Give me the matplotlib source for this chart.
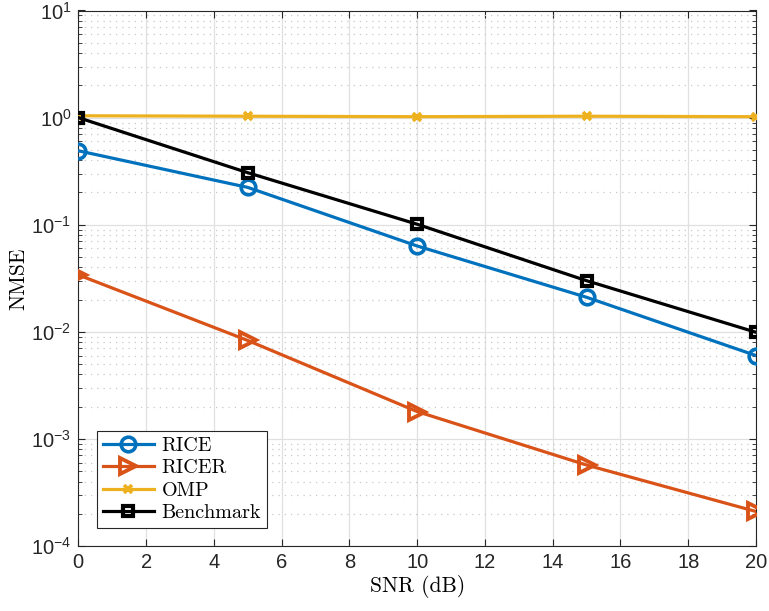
import matplotlib
matplotlib.use('Agg')
import matplotlib.pyplot as plt
from matplotlib.ticker import LogLocator, NullFormatter

# values
snr = [0, 5, 10, 15, 20]
rice = [0.49, 0.223, 0.0633, 0.021, 0.006]
ricer = [0.034, 0.0083, 0.0018, 0.00057, 0.00021]
omp = [1.04, 1.03, 1.02, 1.03, 1.02]
benchmark = [1.0, 0.306, 0.101, 0.030, 0.0099]

plt.rcParams['mathtext.fontset'] = 'custom'
plt.rcParams['mathtext.rm'] = 'Liberation Sans'
plt.rcParams['mathtext.it'] = 'Liberation Sans:italic'
plt.rcParams['font.family'] = 'Liberation Sans'

fig = plt.figure(figsize=(7.69, 6.11), dpi=100)
ax = fig.add_axes([78.3 / 769, 1 - 546 / 611, (756 - 78.3) / 769, (546 - 10.5) / 611])

lw = 2.3
ax.plot(snr, rice, color='#0072BD', lw=lw, marker='o', ms=10.5, mfc='none', mew=2.6, label='RICE', zorder=4)
ax.plot(snr, ricer, color='#D95319', lw=lw, marker='>', ms=12, mfc='none', mew=2.8, label='RICER', zorder=4)
ax.plot(snr, omp, color='#EDB120', lw=lw, marker='x', ms=6, mew=2.6, label='OMP', zorder=4)
ax.plot(snr, benchmark, color='black', lw=lw, marker='s', ms=7, mfc='none', mew=3, label='Benchmark', zorder=5)

ax.set_yscale('log')
ax.set_xlim(0, 20)
ax.set_ylim(1e-4, 10)
ax.set_xticks(range(0, 21, 2))
ax.yaxis.set_major_locator(LogLocator(base=10, numticks=10))
ax.yaxis.set_minor_locator(LogLocator(base=10, subs=range(2, 10), numticks=20))
ax.yaxis.set_minor_formatter(NullFormatter())

ax.grid(True, which='major', color='#e0e0e0', lw=0.9)
ax.grid(True, which='minor', axis='y', color='#c8c8c8', lw=0.9, ls=(0, (1, 4)))
ax.set_axisbelow(True)

ax.tick_params(which='both', direction='in', top=True, right=True, colors='#262626', labelsize=14.5)
ax.tick_params(which='major', length=5, pad=5)
ax.tick_params(which='minor', length=3)
for s in ax.spines.values():
    s.set_color('#262626')
    s.set_linewidth(0.8)

ax.set_xlabel('SNR (dB)', fontfamily='cmr10', fontsize=15.5, labelpad=2)
ax.set_ylabel('NMSE', fontfamily='cmr10', fontsize=15.5, labelpad=2)

leg = ax.legend(loc='lower left', prop={'family': 'cmr10', 'size': 14.5}, fancybox=False,
                edgecolor='#262626', framealpha=1, handlelength=2.5, handletextpad=0.4,
                borderpad=0.3, labelspacing=0.22, borderaxespad=0,
                bbox_to_anchor=(0.028, 0.033))
leg.get_frame().set_linewidth(0.8)

fig.savefig('out.png', dpi=100)
